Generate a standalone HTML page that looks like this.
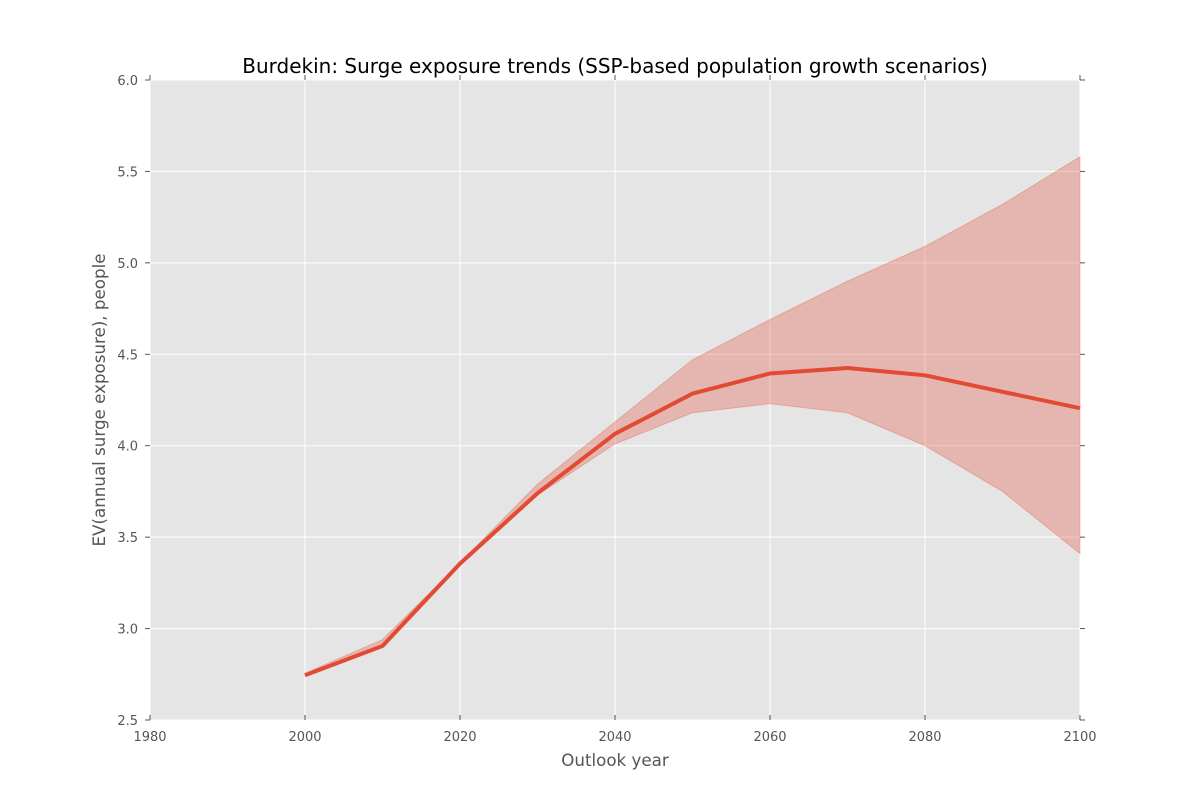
<!DOCTYPE html>
<html><head><meta charset="utf-8"><style>
body{margin:0;background:#fff;}
svg text{font-family:"DejaVu Sans","Liberation Sans",sans-serif;}
</style></head><body>
<svg id="chart" width="1200" height="800" xmlns="http://www.w3.org/2000/svg">
<rect x="0" y="0" width="1200" height="800" fill="#fff"/>
<rect x="150" y="80" width="930" height="640" fill="#e5e5e5"/>
<g id="grid"></g>
<g id="series"></g>
<g id="axes"></g>
<text x="615" y="73" text-anchor="middle" font-size="20" fill="#000">Burdekin: Surge exposure trends (SSP-based population growth scenarios)</text>
<text x="615" y="766" text-anchor="middle" font-size="16.7" fill="#555">Outlook year</text>
<text transform="translate(105,400) rotate(-90)" text-anchor="middle" font-size="16.7" fill="#555">EV(annual surge exposure), people</text>
</svg>
<script>
const years=[2000,2010,2020,2030,2040,2050,2060,2070,2080,2090,2100];
const meanVals=[2.745,2.905,3.355,3.74,4.065,4.285,4.395,4.425,4.385,4.295,4.205];
const upperVals=[2.755,2.94,3.36,3.79,4.13,4.47,4.69,4.90,5.09,5.32,5.58];
const lowerVals=[2.745,2.90,3.35,3.73,4.01,4.18,4.23,4.18,4.00,3.75,3.41];
const xTicks=[1980,2000,2020,2040,2060,2080,2100];
const yTicks=[2.5,3.0,3.5,4.0,4.5,5.0,5.5,6.0];
const NS='http://www.w3.org/2000/svg';
const X=v=>150+(v-1980)/120*930;
const Y=v=>80+(6-v)/3.5*640;
function mk(tag,attrs,parent){const e=document.createElementNS(NS,tag);for(const k in attrs)e.setAttribute(k,attrs[k]);document.getElementById(parent).appendChild(e);return e;}
xTicks.forEach(t=>{
 const g=mk('line',{x1:X(t),x2:X(t),y1:80,y2:720,stroke:'#fff','stroke-width':1},'grid');
 
 
 const tk=mk('line',{x1:X(t),x2:X(t),y1:720,y2:715,stroke:'#555'},'axes');
 
 
 const tk2=mk('line',{x1:X(t),x2:X(t),y1:80,y2:75,stroke:'#555'},'axes');
 
 
 const l=mk('text',{x:X(t),y:741,'text-anchor':'middle','font-size':13,fill:'#555'},'axes');
 l.textContent=t;
 
 
});
yTicks.forEach(t=>{
 const g=mk('line',{x1:150,x2:1080,y1:Y(t),y2:Y(t),stroke:'#fff','stroke-width':1},'grid');
 
 
 const tk=mk('line',{x1:145,x2:150,y1:Y(t),y2:Y(t),stroke:'#555'},'axes');
 
 
 const tk2=mk('line',{x1:1080,x2:1085,y1:Y(t),y2:Y(t),stroke:'#555'},'axes');
 
 
 const l=mk('text',{x:138,y:Y(t)+5,'text-anchor':'end','font-size':13,fill:'#555'},'axes');
 l.textContent=t.toFixed(1);
 
 
});
let d='M'+years.map((y,i)=>X(y)+','+Y(upperVals[i])).join(' L');
for(let i=years.length-1;i>=0;i--)d+=' L'+X(years[i])+','+Y(lowerVals[i]);
d+=' Z';
const band=mk('path',{d:d,fill:'#e24a33','fill-opacity':0.3,stroke:'#e24a33','stroke-opacity':0.3,'stroke-width':1},'series');


const line=mk('polyline',{points:years.map((y,i)=>X(y)+','+Y(meanVals[i])).join(' '),fill:'none',stroke:'#e24a33','stroke-width':4,'stroke-linejoin':'round'},'series');


</script>
</body></html>
